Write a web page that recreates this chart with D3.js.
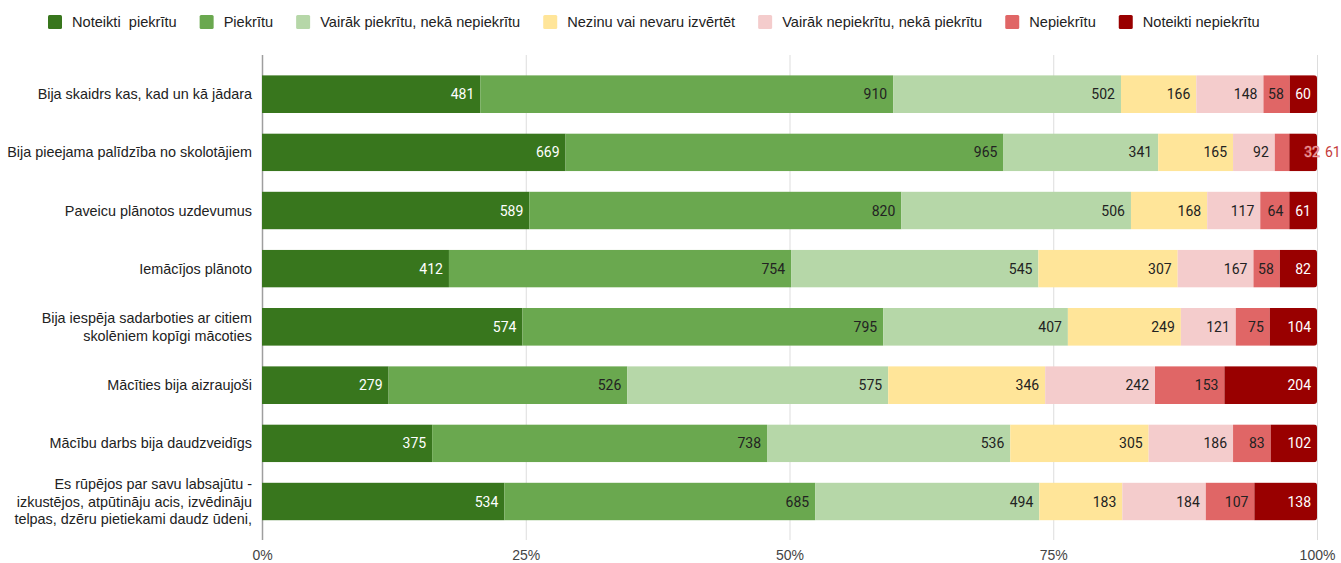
<!DOCTYPE html>
<html>
<head>
<meta charset="utf-8">
<script src="https://cdn.jsdelivr.net/npm/d3@7"></script>
<style>
  body { margin: 0; background: #fff; }
  text { font-family: "Liberation Sans", Arial, sans-serif; }
  .val { font-family: Roboto, "Liberation Sans", sans-serif; font-size: 14px; }
</style>
</head>
<body>
<div id="chart"></div>
<script>
var categories = [
  ["Bija skaidrs kas, kad un kā jādara"],
  ["Bija pieejama palīdzība no skolotājiem"],
  ["Paveicu plānotos uzdevumus"],
  ["Iemācījos plānoto"],
  ["Bija iespēja sadarboties ar citiem", "skolēniem kopīgi mācoties"],
  ["Mācīties bija aizraujoši"],
  ["Mācību darbs bija daudzveidīgs"],
  ["Es rūpējos par savu labsajūtu -", "izkustējos, atpūtināju acis, izvēdināju", "telpas, dzēru pietiekami daudz ūdeni,"]
];

var seriesNames = ["Noteikti  piekrītu", "Piekrītu", "Vairāk piekrītu, nekā nepiekrītu",
  "Nezinu vai nevaru izvērtēt", "Vairāk nepiekrītu, nekā piekrītu", "Nepiekrītu", "Noteikti nepiekrītu"];

var noteiktiPiekritu   = [481, 669, 589, 412, 574, 279, 375, 534];
var piekritu           = [910, 965, 820, 754, 795, 526, 738, 685];
var vairakPiekritu     = [502, 341, 506, 545, 407, 575, 536, 494];
var nezinu             = [166, 165, 168, 307, 249, 346, 305, 183];
var vairakNepiekritu   = [148, 92, 117, 167, 121, 242, 186, 184];
var nepiekritu         = [58, 32, 64, 58, 75, 153, 83, 107];
var noteiktiNepiekritu = [60, 61, 61, 82, 104, 204, 102, 138];

var tickLabels = ["0%", "25%", "50%", "75%", "100%"];

var colors = ["#38761d", "#6aa84f", "#b6d7a8", "#ffe599", "#f4cccc", "#e06666", "#990000"];
var labelColors = ["#fff", "#222", "#222", "#222", "#222", "#222", "#fff"];

var allSeries = [noteiktiPiekritu, piekritu, vairakPiekritu, nezinu, vairakNepiekritu, nepiekritu, noteiktiNepiekritu];

var svgWidth = 1341, svgHeight = 563;

var svg = d3.select("#chart").append("svg")
  .attr("width", svgWidth)
  .attr("height", svgHeight);

// build rows as proportions
var rows = categories.map(function(c, i) {
  var vals = allSeries.map(function(s) { return s[i]; });
  var total = d3.sum(vals);
  var acc = 0;
  var segs = vals.map(function(v, k) {
    var s = {series: k, value: v, x0: acc / total, x1: (acc + v) / total};
    acc += v;
    return s;
  });
  return {i: i, label: c, segs: segs};
});

var x = d3.scaleLinear().domain([0, 1]).range([262, 1317]);
var y = d3.scaleBand().domain(d3.range(categories.length))
  .range([65, 530.6]).paddingInner(0.35).paddingOuter(0.175);

// gridlines + tick labels
var xAxis = d3.axisBottom(x).tickValues([0, 0.25, 0.5, 0.75, 1])
  .tickFormat(function(d, i) { return tickLabels[i]; })
  .tickSize(-(540 - 55)).tickPadding(10);

var axisG = svg.append("g")
  .attr("transform", "translate(0,540)")
  .call(xAxis);
axisG.select(".domain").remove();
axisG.selectAll(".tick line").attr("stroke", "#ddd");
axisG.selectAll(".tick line").filter(function(d) { return d === 0; }).attr("stroke", "#9e9e9e").attr("stroke-width", 1.5);
axisG.selectAll(".tick text")
  .attr("font-size", "14px").attr("fill", "#444")
  .attr("font-family", "Liberation Sans, Arial, sans-serif");

// bars (rounded ends via clip)
var defs = svg.append("defs");
rows.forEach(function(r) {
  defs.append("clipPath").attr("id", "clip" + r.i)
    .append("rect")
    .attr("x", x(0) - 4).attr("y", y(r.i))
    .attr("width", x(1) - x(0) + 4).attr("height", y.bandwidth())
    .attr("rx", 3);
});

var rowG = svg.selectAll(".row").data(rows).enter().append("g").attr("class", "row");

rowG.append("g")
  .attr("clip-path", function(d) { return "url(#clip" + d.i + ")"; })
  .selectAll("rect")
  .data(function(d) { return d.segs.map(function(s) { s.row = d.i; return s; }); })
  .enter().append("rect")
  .attr("x", function(s) { return x(s.x0); })
  .attr("y", function(s) { return y(s.row); })
  .attr("width", function(s) { return x(s.x1) - x(s.x0); })
  .attr("height", y.bandwidth())
  .attr("fill", function(s) { return colors[s.series]; });

// value labels: right aligned inside segment; narrow segments go outside the bar
rowG.each(function(r) {
  var g = d3.select(this);
  var cy = y(r.i) + y.bandwidth() / 2;
  var narrowFrom = -1;
  r.segs.forEach(function(s, k) {
    if (narrowFrom < 0 && x(s.x1) - x(s.x0) < 20) narrowFrom = k;
  });
  r.segs.forEach(function(s, k) {
    var t = g.append("text").attr("class", "val")
      .attr("y", cy).attr("dy", "0.36em")
      .text(s.value);
    if (narrowFrom >= 0 && k >= narrowFrom) {
      if (k === narrowFrom) {
        t.attr("x", x(1) + 3).attr("text-anchor", "end")
          .attr("fill", "#fff").attr("stroke", "#e06666").attr("stroke-width", 0.7);
      } else {
        t.attr("x", x(1) + 8).attr("text-anchor", "start").attr("fill", "#c53a3a");
      }
    } else {
      t.attr("x", x(s.x1) - 6).attr("text-anchor", "end")
        .attr("fill", labelColors[s.series]);
    }
  });

  // category label
  var lt = g.append("text")
    .attr("x", 252).attr("text-anchor", "end")
    .attr("font-size", "14.4px").attr("fill", "#222");
  var n = r.label.length;
  r.label.forEach(function(line, j) {
    lt.append("tspan").attr("x", 252)
      .attr("y", cy + (j - (n - 1) / 2) * 17.5)
      .attr("dy", "0.36em")
      .text(line);
  });
});

// legend
var legend = svg.append("g").attr("transform", "translate(48,22)");
var lx = 0;
seriesNames.forEach(function(name, k) {
  var item = legend.append("g").attr("transform", "translate(" + lx + ",0)");
  item.append("rect").attr("x", 0).attr("y", -7).attr("width", 14).attr("height", 14)
    .attr("rx", 1.5).attr("fill", colors[k]);
  var t = item.append("text").attr("x", 24).attr("dy", "0.36em")
    .attr("font-size", "14.6px").attr("fill", "#222")
    .style("white-space", "pre")
    .text(name);
  lx += 24 + t.node().getComputedTextLength() + 23;
});
</script>
</body>
</html>
